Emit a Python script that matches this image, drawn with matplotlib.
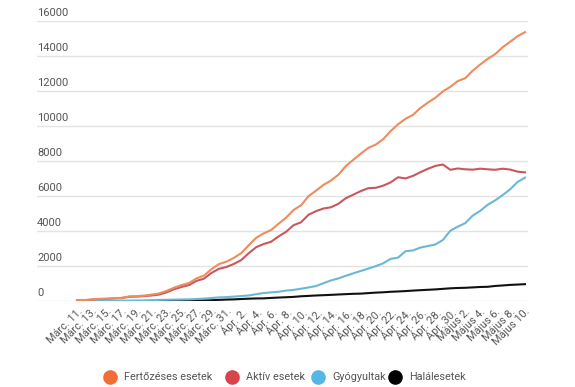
import matplotlib
matplotlib.use("Agg")
import matplotlib.pyplot as plt
from matplotlib.lines import Line2D
from matplotlib.transforms import blended_transform_factory

plt.rcParams['font.family'] = ['Roboto', 'DejaVu Sans']

# Dates: Márc. 11 .. Május 10 (daily)
dates = (["Márc. %d." % d for d in range(11, 32)] +
         ["Ápr. %d." % d for d in range(1, 31)] +
         ["Május %d." % d for d in range(1, 11)])

cases = [48, 49, 89, 123, 131, 158, 184, 260, 277, 308, 367, 433, 576, 762, 906,
         1029, 1292, 1452, 1815, 2109, 2245, 2460, 2738, 3183, 3613, 3864, 4057,
         4417, 4761, 5202, 5467, 5990, 6300, 6633, 6879, 7216, 7707, 8067, 8418,
         8746, 8936, 9242, 9710, 10096, 10417, 10635, 11036, 11339, 11616, 11978,
         12240, 12567, 12732, 13163, 13512, 13837, 14107, 14499, 14811, 15131, 15362]

active = [42, 43, 80, 114, 122, 149, 168, 241, 252, 283, 315, 367, 496, 672, 803,
          912, 1151, 1276, 1603, 1838, 1943, 2116, 2341, 2734, 3077, 3256, 3388,
          3692, 3952, 4331, 4497, 4925, 5133, 5284, 5356, 5553, 5874, 6076, 6281,
          6445, 6468, 6591, 6777, 7073, 7004, 7150, 7363, 7557, 7721, 7798,
          7498, 7573, 7527, 7505, 7562, 7525, 7498, 7561, 7511, 7392, 7350]

recovered = [6, 6, 9, 9, 9, 9, 16, 19, 25, 25, 52, 64, 73, 79, 86,
             94, 115, 139, 169, 206, 220, 252, 283, 316, 390, 457, 493,
             528, 594, 636, 700, 774, 852, 1016, 1172, 1291, 1441, 1580, 1716,
             1850, 1990, 2153, 2406, 2478, 2846, 2890, 3054, 3141, 3232, 3487,
             4017, 4250, 4450, 4880, 5150, 5500, 5750, 6050, 6380, 6800, 7050]

deaths = [0, 0, 0, 0, 0, 0, 0, 0, 0, 0, 0, 2, 7, 11, 17,
          23, 26, 37, 43, 65, 82, 92, 114, 133, 146, 151, 176,
          197, 215, 235, 270, 291, 315, 333, 351, 372, 392, 411, 421,
          451, 478, 498, 527, 545, 567, 595, 619, 641, 663, 693,
          725, 744, 755, 778, 800, 812, 859, 888, 920, 939, 962]

series_names = ["Fertőzéses esetek", "Aktív esetek", "Gyógyultak", "Halálesetek"]
line_colors = ["#EE8C5E", "#C8585E", "#6BB8D4", "#111111"]
marker_colors = ["#F36E35", "#D9434B", "#55B6E6", "#000000"]
yticks = [0, 2000, 4000, 6000, 8000, 10000, 12000, 14000, 16000]

W, H = 575, 387
fig = plt.figure(figsize=(W / 100, H / 100), dpi=100)
ax = fig.add_axes([37 / W, 1 - 301 / H, (528 - 37) / W, (301 - 21) / H])

x = list(range(len(dates)))
ax.plot(x, deaths, color=line_colors[3], lw=1.5, zorder=3)
ax.plot(x, recovered, color=line_colors[2], lw=1.5, zorder=3)
ax.plot(x, active, color=line_colors[1], lw=1.5, zorder=4)
ax.plot(x, cases, color=line_colors[0], lw=1.5, zorder=5)

ax.set_xlim(-5.36, 60.4)
ax.set_ylim(0, 16000)
ax.set_yticks(yticks)
ax.yaxis.grid(True, color="#E3E3E3", lw=1)
ax.set_axisbelow(True)
ax.tick_params(axis='y', length=0, labelleft=False)
for s in ax.spines.values():
    s.set_visible(False)

tr = blended_transform_factory(ax.transAxes, ax.transData)
for v in yticks:
    ax.text(0.0, v + 180, str(v), transform=tr, ha='left', va='bottom',
            fontsize=8, color="#555555")

ax.set_xticks(x[::2])
ax.set_xticklabels(dates[::2], rotation=45, ha='right', rotation_mode='anchor',
                   fontsize=7.8, color="#555555")
ax.tick_params(axis='x', length=0, pad=4)

# Legend drawn manually at measured positions
legend_y = 1 - 377 / H
circle_x = [110, 232, 318, 395]
for cx, col, name in zip(circle_x, marker_colors, series_names):
    fig.add_artist(Line2D([cx / W], [legend_y], marker='o', linestyle='',
                          markersize=9.5, markerfacecolor=col, markeredgecolor=col,
                          transform=fig.transFigure))
    fig.text((cx + 14) / W, legend_y, name, ha='left', va='center',
             fontsize=7.8, color="#555555")

fig.savefig("out.png", dpi=100)
